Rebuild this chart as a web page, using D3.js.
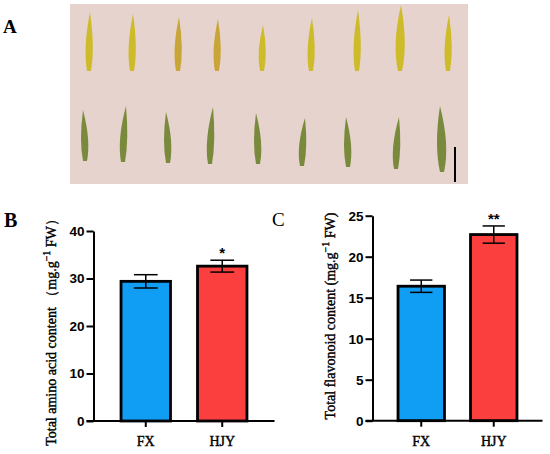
<!DOCTYPE html>
<html>
<head>
<meta charset="utf-8">
<script src="https://cdn.jsdelivr.net/npm/d3@7"></script>
<style>
  html, body { margin: 0; padding: 0; background: #fff; }
  svg { display: block; }
</style>
</head>
<body>
<svg id="chart" width="550" height="454"></svg>
<script>
// ---------- data ----------
const categories = ["FX", "HJY"];
const aminoMean = [29.4, 32.6];
const aminoSD = [1.4, 1.25];
const aminoSig = ["", "*"];
const aminoTicks = [0, 10, 20, 30, 40];
const flavMean = [16.4, 22.7];
const flavSD = [0.75, 1.05];
const flavSig = ["", "**"];
const flavTicks = [0, 5, 10, 15, 20, 25];
const barColors = ["#0f9ef4", "#fb3e3e"];

// photo decoration (panel A)
const topLeafX = [89, 132, 178, 217, 262, 311, 357, 400, 448];
const topLeafTip = [12, 14, 17, 19, 25, 18, 10, 5, 15];
const botLeafX = [85, 123, 168, 210, 258, 302, 348, 396, 442];
const botLeafTip = [110, 106, 112, 107, 113, 118, 117, 117, 106];
const botLeafBase = [161, 162, 163, 164, 164, 166, 167, 169, 172];

const svg = d3.select("#chart");
const serif = "'Liberation Serif', 'Times New Roman', serif";
const sans = "'Liberation Sans', Arial, sans-serif";

// ---------- Panel A (photo stand-in) ----------
svg.append("rect").attr("x", 70).attr("y", 4).attr("width", 398).attr("height", 180)
  .attr("fill", "#e6d3cd");
function leaf(x, tip, base, w, tilt) {
  const mid = tip + (base - tip) * 0.6;
  return `M${x - 2},${base} Q${x - w},${mid} ${x + tilt},${tip} Q${x + w},${mid} ${x + 2},${base} Z`;
}
topLeafX.forEach((x, i) => {
  svg.append("path").attr("d", leaf(x, topLeafTip[i], 71, i === 7 ? 8 : 6, 1))
    .attr("fill", (i === 2 || i === 3) ? "#c9a436" : "#cdbb2a");
});
botLeafX.forEach((x, i) => {
  svg.append("path").attr("d", leaf(x, botLeafTip[i], botLeafBase[i], i === 8 ? 8 : 6, i % 2 ? 3 : -2))
    .attr("fill", "#7a8a3c");
});
svg.append("line").attr("x1", 455).attr("x2", 455).attr("y1", 147).attr("y2", 182)
  .attr("stroke", "#000").attr("stroke-width", 2);

// panel letters
svg.append("text").attr("x", 3).attr("y", 33).text("A")
  .attr("font-family", serif).attr("font-weight", "bold").attr("font-size", 19);
svg.append("text").attr("x", 4).attr("y", 227).text("B")
  .attr("font-family", serif).attr("font-weight", "bold").attr("font-size", 20);
svg.append("text").attr("x", 272).attr("y", 226).text("C")
  .attr("font-family", serif).attr("font-size", 19);

// ---------- bar panel ----------
function panel(opt) {
  const g = svg.append("g");
  const x = d3.scaleBand().domain(categories).range([opt.x0, opt.x1])
    .paddingInner(opt.pin).paddingOuter(opt.pout);
  const y = d3.scaleLinear().domain([0, opt.max]).range([opt.y0, opt.y1]);

  // bars
  g.selectAll("rect.bar").data(opt.mean).join("rect")
    .attr("x", (d, i) => x(categories[i]))
    .attr("y", d => y(d))
    .attr("width", x.bandwidth())
    .attr("height", d => y(0) - y(d))
    .attr("fill", (d, i) => barColors[i])
    .attr("stroke", "#000").attr("stroke-width", 2.8);

  // error bars
  const cap = x.bandwidth() * 0.24;
  opt.mean.forEach((m, i) => {
    const cx = x(categories[i]) + x.bandwidth() / 2;
    const sd = opt.sd[i];
    g.append("line").attr("x1", cx).attr("x2", cx).attr("y1", y(m + sd)).attr("y2", y(m - sd))
      .attr("stroke", "#000").attr("stroke-width", 1.5);
    [m + sd, m - sd].forEach(v => {
      g.append("line").attr("x1", cx - cap).attr("x2", cx + cap).attr("y1", y(v)).attr("y2", y(v))
        .attr("stroke", "#000").attr("stroke-width", 1.5);
    });
    if (opt.sig[i]) {
      g.append("text").attr("x", cx).attr("y", y(m + sd) - 1)
        .attr("text-anchor", "middle").attr("font-family", sans).attr("font-weight", "bold")
        .attr("font-size", 15).text(opt.sig[i]).attr("dy", "0.55em").attr("transform", `translate(0,${-9})`);
    }
  });

  // y axis
  const ya = g.append("g").attr("transform", `translate(${opt.x0},0)`)
    .call(d3.axisLeft(y).tickValues(opt.ticks).tickSize(7).tickSizeOuter(0).tickPadding(2));
  ya.select(".domain").attr("stroke-width", 2);
  ya.selectAll(".tick line").attr("stroke-width", 2);
  ya.selectAll(".tick text").attr("font-family", sans).attr("font-weight", "bold")
    .attr("font-size", 13.5).attr("fill", "#000");

  // x axis
  const xa = g.append("g").attr("transform", `translate(0,${opt.y0})`)
    .call(d3.axisBottom(x).tickSize(6).tickSizeOuter(0).tickPadding(9));
  xa.select(".domain").attr("stroke-width", 2).attr("d", `M${opt.x0 - 7},0H${opt.x1}`);
  xa.selectAll(".tick line").attr("stroke-width", 2);
  xa.selectAll(".tick text").attr("font-family", serif).attr("font-size", 14).attr("fill", "#000")
    .attr("stroke", "#000").attr("stroke-width", 0.4);

  // y title
  const t = g.append("text")
    .attr("transform", `translate(${opt.tx},${opt.ty}) rotate(-90)`)
    .attr("text-anchor", "middle").attr("font-family", serif).attr("font-size", 14).attr("fill", "#000")
    .attr("stroke", "#000").attr("stroke-width", 0.4);
  t.append("tspan").text(opt.title1);
  t.append("tspan").attr("dy", -6).attr("font-size", 10).text("\u22121");
  t.append("tspan").attr("dy", 6).text(opt.title2);
}

panel({
  x0: 93.5, x1: 274.5, pin: 0.353, pout: 0.36, y0: 421, y1: 231, max: 40,
  mean: aminoMean, sd: aminoSD, sig: aminoSig, ticks: aminoTicks,
  tx: 56, ty: 329, title1: "Total amino acid content \uFF08mg.g", title2: " FW\uFF09"
});
panel({
  x0: 372.5, x1: 542.5, pin: 0.359, pout: 0.352, y0: 420.7, y1: 215.7, max: 25,
  mean: flavMean, sd: flavSD, sig: flavSig, ticks: flavTicks,
  tx: 335, ty: 316, title1: "Total flavonoid content  (mg.g", title2: " FW)"
});
</script>
</body>
</html>
